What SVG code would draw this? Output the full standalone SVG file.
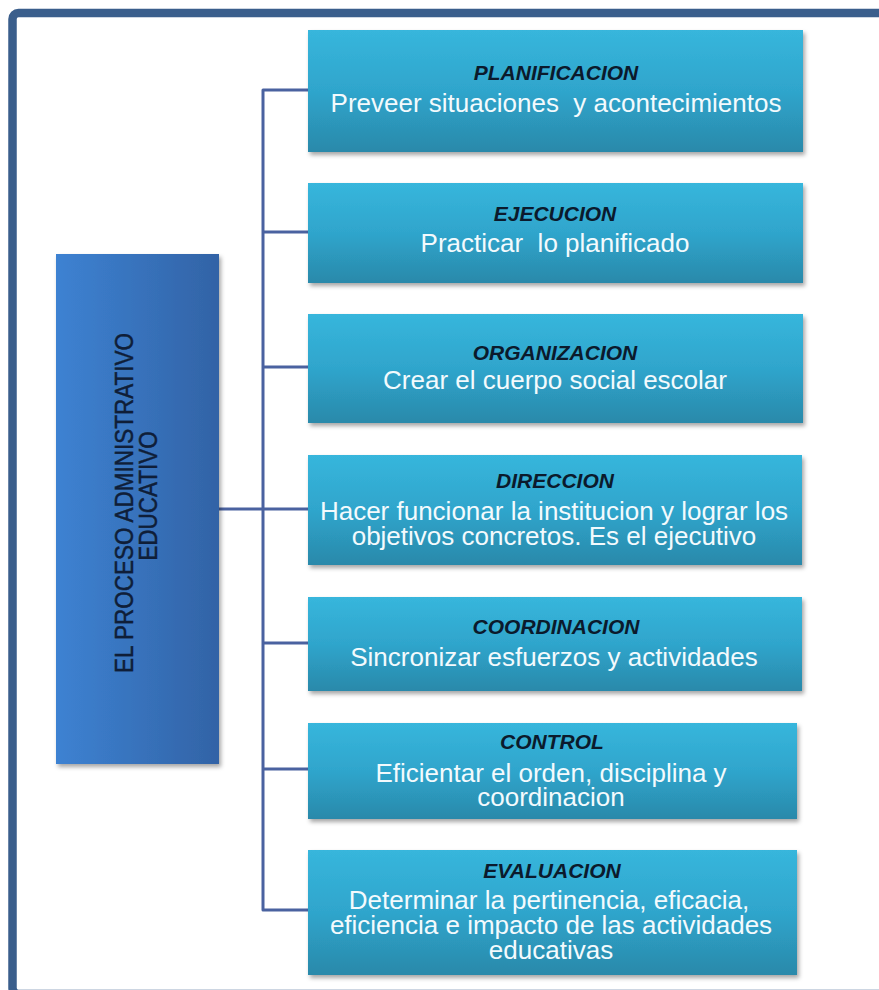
<svg xmlns="http://www.w3.org/2000/svg" width="879" height="990" viewBox="0 0 879 990">
<defs>
<linearGradient id="gBox" x1="0" y1="0" x2="0" y2="1">
<stop offset="0" stop-color="#37B6DC"/>
<stop offset="0.5" stop-color="#2FA5CC"/>
<stop offset="1" stop-color="#2A89AA"/>
</linearGradient>
<linearGradient id="gMain" x1="0" y1="0" x2="1" y2="0">
<stop offset="0" stop-color="#3D82D2"/>
<stop offset="1" stop-color="#3263A6"/>
</linearGradient>
<filter id="sh" x="-5%" y="-10%" width="115%" height="130%">
<feDropShadow dx="2" dy="3" stdDeviation="2" flood-color="#000" flood-opacity="0.35"/>
</filter>
<style>
.box{fill:url(#gBox);filter:url(#sh)}
.main{fill:url(#gMain);filter:url(#sh)}
.t{font-family:"Liberation Sans",Arial,sans-serif;font-size:21px;font-weight:bold;font-style:italic;fill:#0B1A2C;text-anchor:middle}
.b{font-family:"Liberation Sans",Arial,sans-serif;font-size:26px;fill:#F3FAFD;text-anchor:middle}
.m{font-family:"Liberation Sans",Arial,sans-serif;font-size:22.5px;fill:#0F1E38;stroke:#0F1E38;stroke-width:0.4;text-anchor:middle}
.c{fill:none;stroke:#4A62A0;stroke-width:3;stroke-linejoin:round}
</style>
</defs>
<rect x="0" y="0" width="879" height="990" fill="#FFFFFF"/>
<rect x="12.5" y="13" width="900" height="981" rx="6" fill="none" stroke="#3A5E8C" stroke-width="8.5"/>

<g id="connectors">
<path class="c" d="M308,90 H263 V910 H308"/>
<path class="c" d="M263,232 H308 M263,367 H308 M219,509 H308 M263,643 H308 M263,769 H308"/>
</g>

<g id="main">
<rect class="main" x="56" y="254" width="163" height="510"/>
<text class="m" transform="translate(133,503) rotate(-90) scale(1,1.12)">EL PROCESO ADMINISTRATIVO</text>
<text class="m" transform="translate(157,496) rotate(-90) scale(1,1.12)">EDUCATIVO</text>
</g>

<g id="planificacion">
<rect class="box" x="308" y="30" width="495" height="122"/>
<text class="t" x="556" y="80">PLANIFICACION</text>
<text class="b" x="556" y="112" xml:space="preserve">Preveer situaciones  y acontecimientos</text>
</g>

<g id="ejecucion">
<rect class="box" x="308" y="183" width="495" height="100"/>
<text class="t" x="555" y="221">EJECUCION</text>
<text class="b" x="555" y="252" xml:space="preserve">Practicar  lo planificado</text>
</g>

<g id="organizacion">
<rect class="box" x="308" y="314" width="495" height="109"/>
<text class="t" x="555" y="360">ORGANIZACION</text>
<text class="b" x="555" y="389">Crear el cuerpo social escolar</text>
</g>

<g id="direccion">
<rect class="box" x="308" y="455" width="494" height="110"/>
<text class="t" x="555" y="488">DIRECCION</text>
<text class="b" x="554" y="520">Hacer funcionar la institucion y lograr los</text>
<text class="b" x="554" y="545">objetivos concretos. Es el ejecutivo</text>
</g>

<g id="coordinacion">
<rect class="box" x="308" y="597" width="494" height="94"/>
<text class="t" x="556" y="634">COORDINACION</text>
<text class="b" x="554" y="666">Sincronizar esfuerzos y actividades</text>
</g>

<g id="control">
<rect class="box" x="308" y="723" width="489" height="96"/>
<text class="t" x="552" y="749">CONTROL</text>
<text class="b" x="551" y="782">Eficientar el orden, disciplina y</text>
<text class="b" x="551" y="806">coordinacion</text>
</g>

<g id="evaluacion">
<rect class="box" x="308" y="850" width="489" height="125"/>
<text class="t" x="552" y="878">EVALUACION</text>
<text class="b" x="549" y="909">Determinar la pertinencia, eficacia,</text>
<text class="b" x="551" y="934">eficiencia e impacto de las actividades</text>
<text class="b" x="551" y="959">educativas</text>
</g>
</svg>
